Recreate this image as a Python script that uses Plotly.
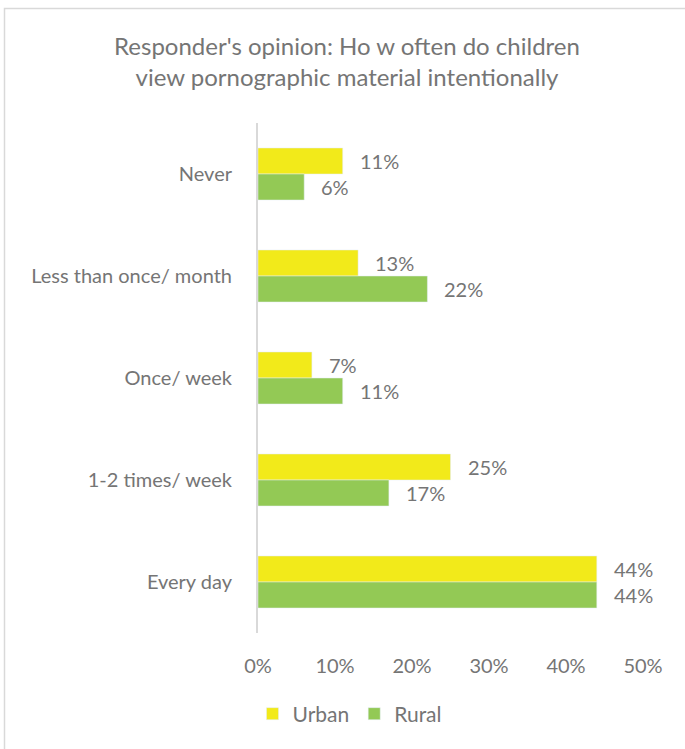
import plotly.graph_objects as go

categories = ["Never", "Less than once/ month", "Once/ week", "1-2 times/ week", "Every day"]
urban = [11, 13, 7, 25, 44]
rural = [6, 22, 11, 17, 44]

URBAN_COLOR = "#F2EA1A"
RURAL_COLOR = "#93C955"
TEXT_COLOR = "#757575"
FONT = "Lato"
LABEL_SIZE = 20

W, H = 685, 749
L, R, T, B = 258, 42, 123, 116
pw, ph = W - L - R, H - T - B


def px_to_paper_x(px):
    return (px - L) / pw


def px_to_paper_y(py):
    return (H - B - py) / ph


fig = go.Figure()
fig.add_trace(go.Bar(name="Urban", y=categories, x=urban, orientation="h",
                     marker_color=URBAN_COLOR, hoverinfo="x+y"))
fig.add_trace(go.Bar(name="Rural", y=categories, x=rural, orientation="h",
                     marker_color=RURAL_COLOR, hoverinfo="x+y"))

# value labels to the right of each bar
annotations = []
for cat, u, r in zip(categories, urban, rural):
    for val, shift in ((u, 13), (r, -13)):
        annotations.append(dict(
            x=val, y=cat, xref="x", yref="y", text=f"{val}%",
            showarrow=False, xanchor="left", yanchor="middle",
            xshift=15, yshift=shift,
            font=dict(family=FONT, size=LABEL_SIZE, color=TEXT_COLOR),
        ))

# light frame around the chart area
shapes = [dict(
    type="rect", xref="paper", yref="paper",
    x0=px_to_paper_x(4.5), x1=px_to_paper_x(W + 20),
    y0=px_to_paper_y(H + 20), y1=px_to_paper_y(8.5),
    line=dict(color="#D9D9D9", width=1.5), fillcolor="rgba(0,0,0,0)",
    layer="below",
)]

fig.update_layout(
    width=W, height=H,
    margin=dict(l=L, r=R, t=T, b=B),
    paper_bgcolor="white", plot_bgcolor="white",
    barmode="group", bargap=0.49, bargroupgap=0,
    font=dict(family=FONT, size=LABEL_SIZE, color=TEXT_COLOR),
    title=dict(
        text="Responder's opinion: Ho w often do children<br>view pornographic material intentionally",
        x=347 / W, xref="container", xanchor="center",
        y=1 - 55 / H, yref="container", yanchor="middle",
        font=dict(family=FONT, size=24, color=TEXT_COLOR),
    ),
    xaxis=dict(
        range=[0, 50], dtick=10, ticksuffix="%", showgrid=False,
        zeroline=False, showline=False, ticks="",
        ticklabelstandoff=19, fixedrange=True,
        tickfont=dict(family=FONT, size=LABEL_SIZE, color=TEXT_COLOR),
    ),
    yaxis=dict(
        autorange="reversed", showgrid=False, zeroline=False,
        showline=True, linecolor="#D9D9D9", linewidth=2, ticks="",
        ticklabelstandoff=20, fixedrange=True,
        tickfont=dict(family=FONT, size=LABEL_SIZE, color=TEXT_COLOR),
    ),
    legend=dict(
        orientation="h", x=px_to_paper_x(350), xanchor="center",
        y=px_to_paper_y(714), yanchor="middle",
        font=dict(family=FONT, size=21, color=TEXT_COLOR),
        traceorder="normal",
    ),
    annotations=annotations,
    shapes=shapes,
    showlegend=True,
)

fig.write_html("out.html")
